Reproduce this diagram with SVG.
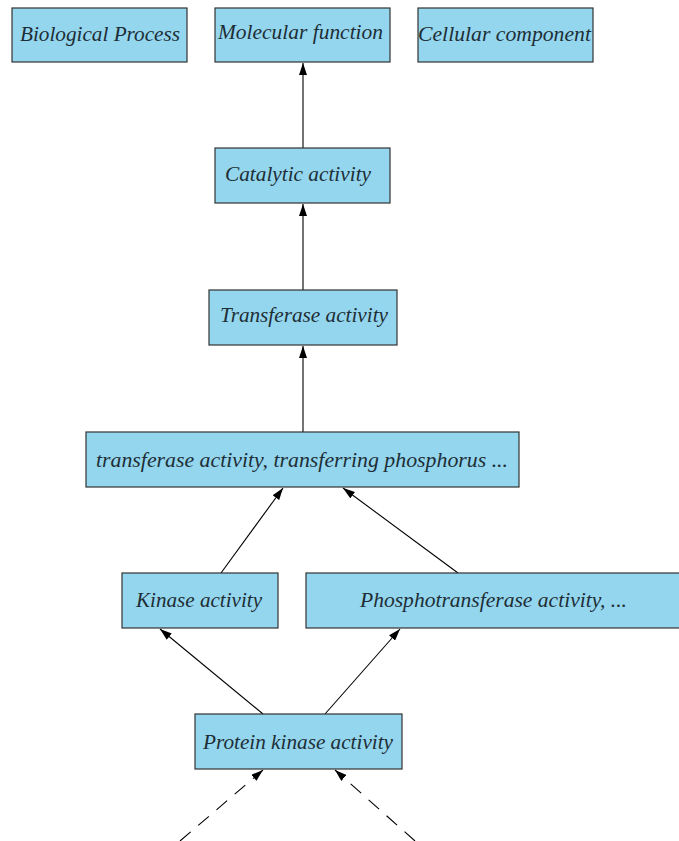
<svg xmlns="http://www.w3.org/2000/svg" width="679" height="841" viewBox="0 0 679 841">
<style>
.n rect{fill:#94d6ee;stroke:#333;stroke-width:1.2}
.n text{font-family:"Liberation Serif","DejaVu Serif",serif;font-style:italic;font-size:20px;fill:#1e2e36;text-anchor:middle}
.e line{stroke:#000;stroke-width:1.1;fill:none}
.d{stroke-dasharray:14 10}
</style>
<defs>
<marker id="a" viewBox="0 0 12 8" refX="12" refY="4" markerWidth="12" markerHeight="8" markerUnits="userSpaceOnUse" orient="auto">
<path d="M0,0 L12,4 L0,8 Z" fill="#000"/>
</marker>
</defs>
<rect width="679" height="841" fill="#fff"/>
<g class="e">
<line x1="303" y1="148" x2="303" y2="63" marker-end="url(#a)"/>
<line x1="303" y1="290" x2="303" y2="204" marker-end="url(#a)"/>
<line x1="303" y1="432" x2="303" y2="346" marker-end="url(#a)"/>
<line x1="221" y1="573" x2="283" y2="488" marker-end="url(#a)"/>
<line x1="458" y1="573" x2="343" y2="488" marker-end="url(#a)"/>
<line x1="263" y1="714" x2="160" y2="629" marker-end="url(#a)"/>
<line x1="325" y1="714" x2="400" y2="629" marker-end="url(#a)"/>
<line class="d" x1="180" y1="841" x2="263" y2="770" marker-end="url(#a)"/>
<line class="d" x1="415" y1="841" x2="335" y2="770" marker-end="url(#a)"/>
</g>
<g id="bp" class="n"><rect x="12" y="8" width="175" height="54"/><text x="100" y="41" textLength="160" lengthAdjust="spacingAndGlyphs">Biological Process</text></g>
<g id="mf" class="n"><rect x="215" y="8" width="175" height="54"/><text x="300.5" y="39" textLength="165" lengthAdjust="spacingAndGlyphs">Molecular function</text></g>
<g id="cc" class="n"><rect x="418" y="8" width="175" height="54"/><text x="504.5" y="41" textLength="173" lengthAdjust="spacingAndGlyphs">Cellular component</text></g>
<g id="ca" class="n"><rect x="215" y="148" width="175" height="55"/><text x="298" y="181" textLength="146" lengthAdjust="spacingAndGlyphs">Catalytic activity</text></g>
<g id="ta" class="n"><rect x="209" y="290" width="188" height="55"/><text x="304" y="322" textLength="168" lengthAdjust="spacingAndGlyphs">Transferase activity</text></g>
<g id="tp" class="n"><rect x="86" y="432" width="433" height="55"/><text x="302" y="467" textLength="412" lengthAdjust="spacingAndGlyphs">transferase activity, transferring phosphorus ...</text></g>
<g id="ka" class="n"><rect x="122" y="573" width="156" height="55"/><text x="199" y="607" textLength="126" lengthAdjust="spacingAndGlyphs">Kinase activity</text></g>
<g id="pt" class="n"><rect x="306" y="573" width="380" height="55"/><text x="493.5" y="607" textLength="267" lengthAdjust="spacingAndGlyphs">Phosphotransferase activity, ...</text></g>
<g id="pk" class="n"><rect x="195" y="714" width="207" height="55"/><text x="298" y="749" textLength="190" lengthAdjust="spacingAndGlyphs">Protein kinase activity</text></g>
</svg>
